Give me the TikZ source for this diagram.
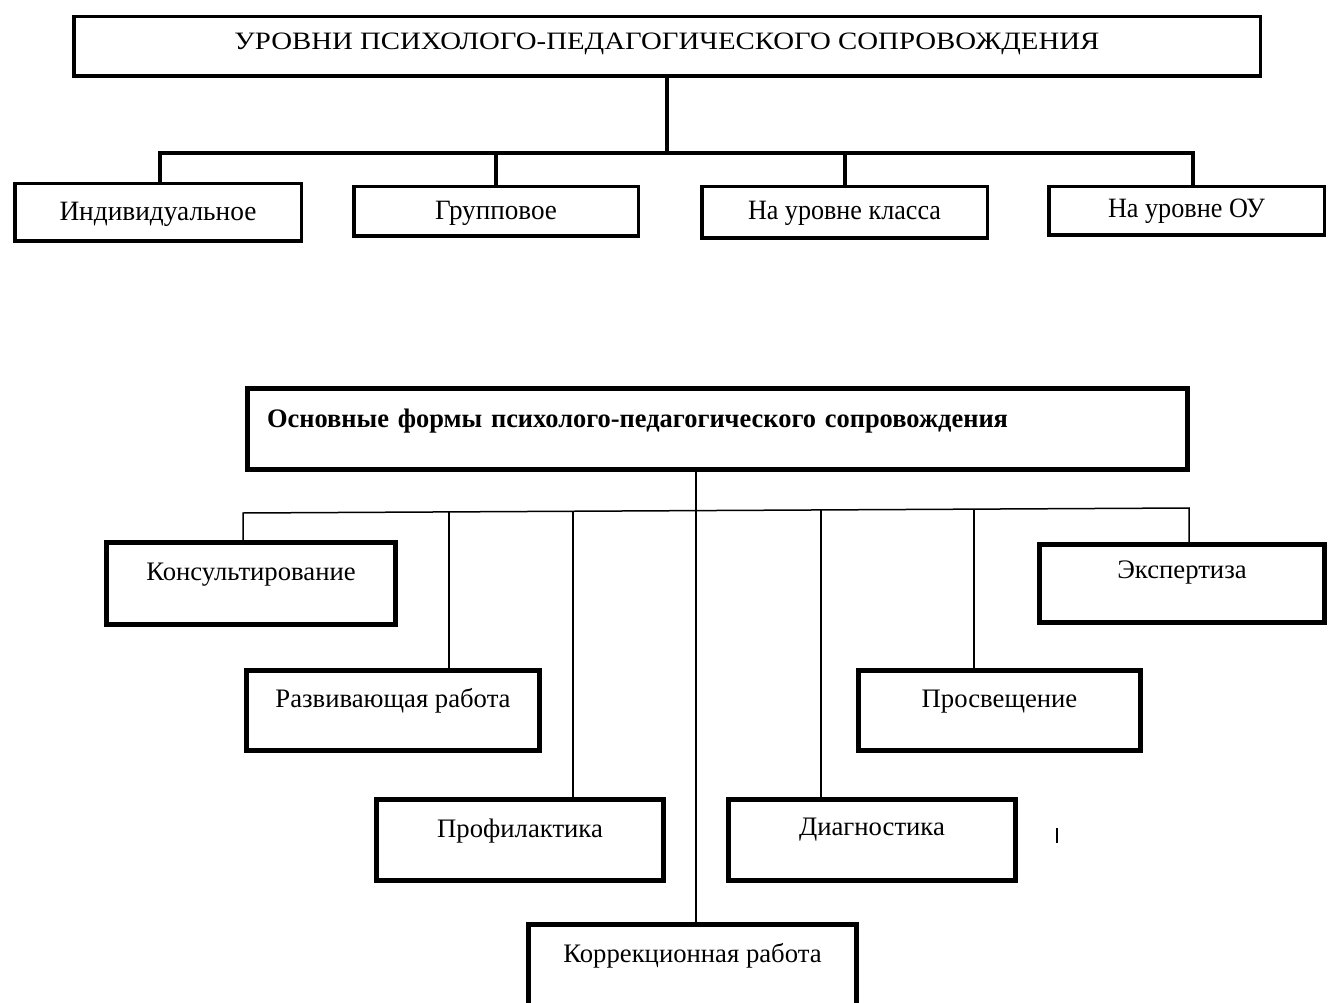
\documentclass[tikz,border=0pt]{standalone}
\usepackage{fontspec}
\setmainfont{Liberation Serif}
\usepackage{graphicx}
\begin{document}
\begin{tikzpicture}[x=1pt,y=-1pt,
  tbox/.style={draw, line width=3.5pt, inner sep=0pt},
  tline/.style={line width=4pt, line join=miter},
  bbox/.style={draw, line width=5pt, inner sep=0pt, text height=37.5pt, text depth=44.5pt,
    font=\fontsize{26.7}{30}\selectfont},
  bline/.style={line width=1.5pt, line join=miter}]
\useasboundingbox (0,0) rectangle (1328,1003);

% ---------- top diagram ----------
\node[tbox, minimum width=1186.5pt, text height=33.25pt, text depth=26.25pt] (T) at (667,46.5)
  {\resizebox{865pt}{\height}{\fontsize{25}{28}\selectfont УРОВНИ ПСИХОЛОГО-ПЕДАГОГИЧЕСКОГО СОПРОВОЖДЕНИЯ}};

\node[tbox, minimum width=286.5pt, text height=37.25pt, text depth=20.25pt] (I) at (158,212.5)
  {\resizebox{197pt}{\height}{\fontsize{28}{30}\selectfont Индивидуальное}};
\node[tbox, minimum width=284.5pt, text height=33.25pt, text depth=16.25pt] (G) at (496,211.5)
  {\resizebox{122pt}{\height}{\fontsize{28}{30}\selectfont Групповое}};
\node[tbox, minimum width=285.5pt, text height=33.25pt, text depth=18.25pt] (KL) at (844.5,212.5)
  {\resizebox{193pt}{\height}{\fontsize{28}{30}\selectfont На уровне класса}};
\node[tbox, minimum width=275.5pt, text height=31.25pt, text depth=17.25pt] (OU) at (1186.5,211)
  {\resizebox{157pt}{\height}{\fontsize{28}{30}\selectfont На уровне ОУ}};

\coordinate (tb) at (668,153);
\coordinate (tbL) at (160,153);
\coordinate (tbR) at (1193,153);
\draw[tline] (T.south) -- (T.south |- tb);
\draw[tline] (tbL |- I.north) -- (tbL) -- (tbR) -- (tbR |- OU.north);
\draw[tline] (G.north) -- (G.north |- tb);
\draw[tline] (KL.north) -- (KL.north |- tb);

% ---------- bottom diagram ----------
\node[bbox, text height=38.5pt, text depth=42.5pt, inner xsep=19.5pt, text width=901pt, align=left]
  (M) at (717.5,429) {\resizebox{741pt}{\height}{\bfseries Основные формы психолого-педагогического сопровождения}};

\node[bbox, minimum width=289pt] (K) at (251,583.5) {Консультирование};
\node[bbox, minimum width=285pt, text height=33.5pt] (E) at (1182,583.5) {Экспертиза};
\node[bbox, minimum width=293pt, text height=36.5pt, text depth=43.5pt] (R) at (393,710.5) {Развивающая работа};
\node[bbox, minimum width=282pt, text height=36.5pt, text depth=43.5pt] (P) at (999.5,710.5) {Просвещение};
\node[bbox, minimum width=287pt, text depth=43.5pt] (F) at (520,840) {Профилактика};
\node[bbox, minimum width=287pt, text height=35.5pt, text depth=45.5pt] (D) at (872,840) {Диагностика};
\node[bbox, minimum width=328pt, text depth=50pt] (C) at (692.5,968.25) {Коррекционная работа};

\coordinate (bl) at (243,513);
\coordinate (br) at (1189,508);
\coordinate (bs) at (696,510.5);
\coordinate (d1) at (449,511.9);
\coordinate (d2) at (573,511.3);
\coordinate (d3) at (821,509.9);
\coordinate (d4) at (974,509.1);

\draw[bline] (K.north -| bl) -- (bl) -- (br) -- (br |- E.north);
\draw[bline] (bs |- M.south) -- (bs |- C.north);
\draw[bline] (d1) -- (d1 |- R.north);
\draw[bline] (d2) -- (d2 |- F.north);
\draw[bline] (d3) -- (d3 |- D.north);
\draw[bline] (d4) -- (d4 |- P.north);

\coordinate (mk) at (1057,828);
\draw[line width=1.5pt] (mk) -- ++(0,15);
\end{tikzpicture}
\end{document}
